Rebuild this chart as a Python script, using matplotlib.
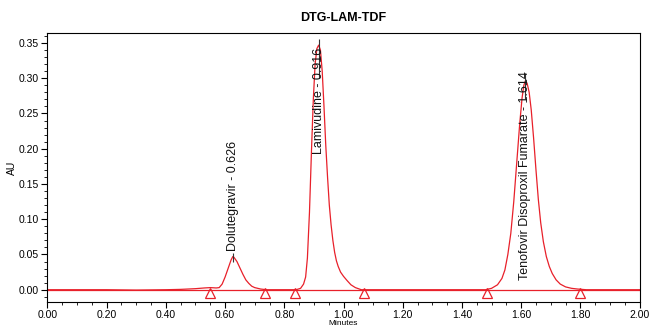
import matplotlib.pyplot as plt
from matplotlib.ticker import MultipleLocator, FormatStrFormatter

plt.rcParams['font.family'] = ['Liberation Sans', 'DejaVu Sans']

# chromatogram trace (minutes, AU)
time = [0.00, 0.10, 0.20, 0.30, 0.40, 0.45, 0.50, 0.53, 0.55, 0.57, 0.58,
        0.59, 0.60, 0.61, 0.62, 0.626, 0.63, 0.64, 0.65, 0.66, 0.67, 0.68,
        0.69, 0.70, 0.72, 0.74, 0.80, 0.84, 0.855, 0.865, 0.872, 0.878,
        0.885, 0.892, 0.898, 0.904, 0.910, 0.916, 0.922, 0.928, 0.934,
        0.940, 0.946, 0.952, 0.958, 0.964, 0.970, 0.976, 0.982, 0.990,
        1.000, 1.012, 1.025, 1.040, 1.060, 1.20, 1.40, 1.48, 1.50, 1.52,
        1.535, 1.545, 1.555, 1.565, 1.575, 1.585, 1.595, 1.603, 1.609,
        1.614, 1.620, 1.627, 1.634, 1.642, 1.650, 1.658, 1.666, 1.675,
        1.685, 1.695, 1.705, 1.718, 1.732, 1.750, 1.770, 1.79, 1.82, 2.00]
au = [0.000, 0.000, 0.000, -0.0005, 0.000, 0.0005, 0.0015, 0.0025, 0.003,
      0.0025, 0.003, 0.008, 0.018, 0.030, 0.042, 0.047, 0.046, 0.040, 0.031,
      0.022, 0.014, 0.009, 0.005, 0.003, 0.001, 0.000, 0.000, 0.000, 0.002,
      0.008, 0.018, 0.045, 0.11, 0.20, 0.27, 0.32, 0.342, 0.347, 0.34, 0.31,
      0.26, 0.205, 0.16, 0.12, 0.092, 0.07, 0.053, 0.041, 0.033, 0.025,
      0.019, 0.013, 0.007, 0.003, 0.000, 0.000, 0.000, 0.000, 0.002, 0.007,
      0.016, 0.028, 0.05, 0.08, 0.125, 0.18, 0.235, 0.272, 0.29, 0.296,
      0.293, 0.28, 0.255, 0.215, 0.17, 0.128, 0.095, 0.068, 0.047, 0.033,
      0.023, 0.014, 0.008, 0.004, 0.002, 0.001, 0.000, 0.000]

# peak labels
peak_names = ['Dolutegravir', 'Lamivudine', 'Tenofovir Disoproxil Fumarate']
peak_rt = [0.626, 0.916, 1.614]
label_bottom = [0.055, 0.193, 0.014]
apex_mark_lo = [0.040, 0.30, 0.27]
apex_mark_hi = [0.052, 0.355, 0.307]

# integration start/end markers
marker_t = [0.55, 0.735, 0.835, 1.07, 1.485, 1.80]
marker_y = [0.0, 0.0, 0.0, 0.0, 0.0, 0.0]

red = '#e8202a'

fig = plt.figure(figsize=(6.5, 3.28), dpi=100)
ax = fig.add_axes([0.073, 0.078, 0.911, 0.821])

ax.axhline(0, color=red, lw=0.9)
ax.plot(time, au, color=red, lw=0.9)
ax.plot(marker_t, [m - 0.0045 for m in marker_y], linestyle='none', marker='^',
        ms=7, mfc='none', mec=red, mew=0.9)
ax.vlines(peak_rt, apex_mark_lo, apex_mark_hi, color='#333333', lw=0.8)

for name, rt, yb in zip(peak_names, peak_rt, label_bottom):
    ax.text(rt, yb, f'{name} - {rt:.3f}', rotation=90, ha='center', va='bottom',
            fontsize=9, color='#111111')

ax.set_xlim(0, 2.0)
ax.set_ylim(-0.018, 0.364)
ax.xaxis.set_major_locator(MultipleLocator(0.2))
ax.xaxis.set_minor_locator(MultipleLocator(0.05))
ax.yaxis.set_major_locator(MultipleLocator(0.05))
ax.yaxis.set_minor_locator(MultipleLocator(0.01))
ax.xaxis.set_major_formatter(FormatStrFormatter('%.2f'))
ax.yaxis.set_major_formatter(FormatStrFormatter('%.2f'))
ax.tick_params(which='major', direction='out', length=4, width=0.8, labelsize=7.5, pad=2)
ax.tick_params(axis='x', which='major', pad=1.5)
ax.tick_params(which='minor', direction='out', length=2, width=0.6)
for s in ax.spines.values():
    s.set_linewidth(0.8)

ax.set_xlabel('Minutes', fontsize=6, labelpad=0)
ax.set_ylabel('AU', fontsize=7.5, labelpad=1)
ax.set_title('DTG-LAM-TDF', fontsize=9, fontweight='bold', pad=9)

fig.savefig('out.png', dpi=100)
